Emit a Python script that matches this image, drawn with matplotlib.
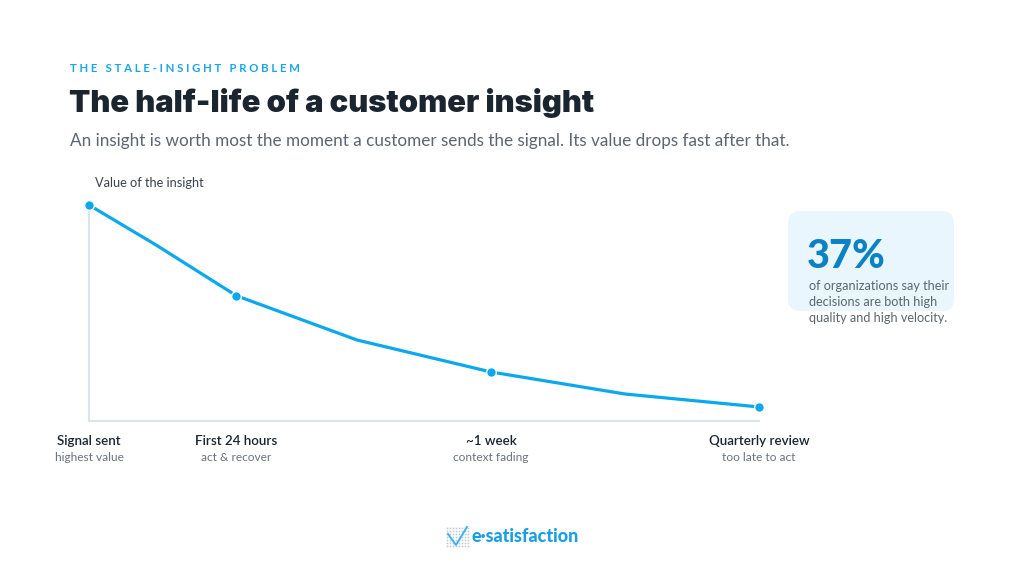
import matplotlib
matplotlib.use('Agg')
from matplotlib import pyplot as plt
from matplotlib.patches import FancyBboxPatch

# decay curve of an insight's value (time scale 0-100, value 0-100)
curve_time = [0, 10, 22, 40, 60, 80, 100]
curve_value = [100, 81.5, 58, 37.5, 22.7, 12.5, 6.5]

# labelled milestones on the curve
milestone_time = [0, 22, 60, 100]
milestone_value = [100, 58, 22.7, 6.5]
milestone_labels = ['Signal sent', 'First 24 hours', '~1 week', 'Quarterly review']
milestone_notes = ['highest value', 'act & recover', 'context fading', 'too late to act']

stat_value = '37%'
stat_text = 'of organizations say their\ndecisions are both high\nquality and high velocity.'

BLUE = '#0ba8ec'
DARK = '#1b2530'
GREY = '#5d6570'
AXIS = '#dde4eb'

plt.rcParams['font.family'] = ['Lato', 'DejaVu Sans']

fig = plt.figure(figsize=(10.24, 5.76), dpi=100)
fig.patch.set_facecolor('white')


def px(x, y):
    """pixel position to figure fraction"""
    return x / 1024, 1 - y / 576


# header texts
fig.text(*px(70, 68), 'T H E   S T A L E - I N S I G H T   P R O B L E M',
         color='#16a6e8', fontsize=8.2, fontweight='bold', va='center')
fig.text(*px(69, 103), 'The half-life of a customer insight', color=DARK,
         fontsize=22.3, fontweight='black', va='center',
         fontfamily=['Inter', 'DejaVu Sans'])
fig.text(*px(70, 141), 'An insight is worth most the moment a customer sends '
         'the signal. Its value drops fast after that.', color=GREY,
         fontsize=12.3, va='center')

# chart
ax = fig.add_axes([89 / 1024, 1 - 421 / 576, (759 - 89) / 1024,
                   (421 - 205) / 576])
ax.plot(curve_time, curve_value, color=BLUE, lw=2.3, solid_joinstyle='round',
        clip_on=False, zorder=3)
ax.plot(milestone_time, milestone_value, 'o', color=BLUE, ms=7,
        mec='white', mew=1, clip_on=False, zorder=4)
ax.set_xlim(0, 100)
ax.set_ylim(0, 100)
for side in ['top', 'right']:
    ax.spines[side].set_visible(False)
for side in ['left', 'bottom']:
    ax.spines[side].set_color(AXIS)
    ax.spines[side].set_linewidth(1.6)
ax.set_xticks([])
ax.set_yticks([])

ax.text(0.009, 1.1, 'Value of the insight', transform=ax.transAxes,
        color='#3a424c', fontsize=9.2, va='center', ha='left')

for t, lab, note in zip(milestone_time, milestone_labels, milestone_notes):
    ax.annotate(lab, (t, 0), xytext=(0, -14.5), textcoords='offset points',
                ha='center', va='center', fontsize=9.6, color=DARK,
                fontweight='semibold', annotation_clip=False)
    ax.annotate(note, (t, 0), xytext=(0, -26.5), textcoords='offset points',
                ha='center', va='center', fontsize=8.6, color='#6a727d',
                annotation_clip=False)

# callout box
x0, y0 = px(788, 311)
x1, y1 = px(954, 211)
box = FancyBboxPatch((x0, y0), x1 - x0, y1 - y0,
                     boxstyle='round,pad=0,rounding_size=0.012',
                     transform=fig.transFigure, facecolor='#e9f6fd',
                     edgecolor='none', mutation_aspect=1024 / 576)
fig.add_artist(box)
fig.text(*px(807, 256), stat_value, color='#0a82c4', fontsize=28.5,
         fontweight='black', va='center')
fig.text(*px(809, 302), stat_text, color=GREY, fontsize=9.1, va='center',
         linespacing=1.4)

# logo
grid_x = []
grid_y = []
for i in range(8):
    for j in range(7):
        grid_x.append(447 + i * 3)
        grid_y.append(528 + j * 3)
fig.add_artist(plt.Line2D([v / 1024 for v in grid_x],
                          [1 - v / 576 for v in grid_y], ls='none',
                          marker='s', ms=1.2, mew=0, color='#c4c9ce',
                          transform=fig.transFigure))
fig.add_artist(plt.Line2D([448 / 1024, 456 / 1024, 467 / 1024],
                          [1 - 534 / 576, 1 - 545 / 576, 1 - 527 / 576],
                          color='#3db3ee', lw=1.4, transform=fig.transFigure))
fig.text(*px(471, 537), 'e·satisfaction', color='#1a9fe6', fontsize=13,
         fontweight='black', va='center')

fig.savefig('out.png', dpi=100)
